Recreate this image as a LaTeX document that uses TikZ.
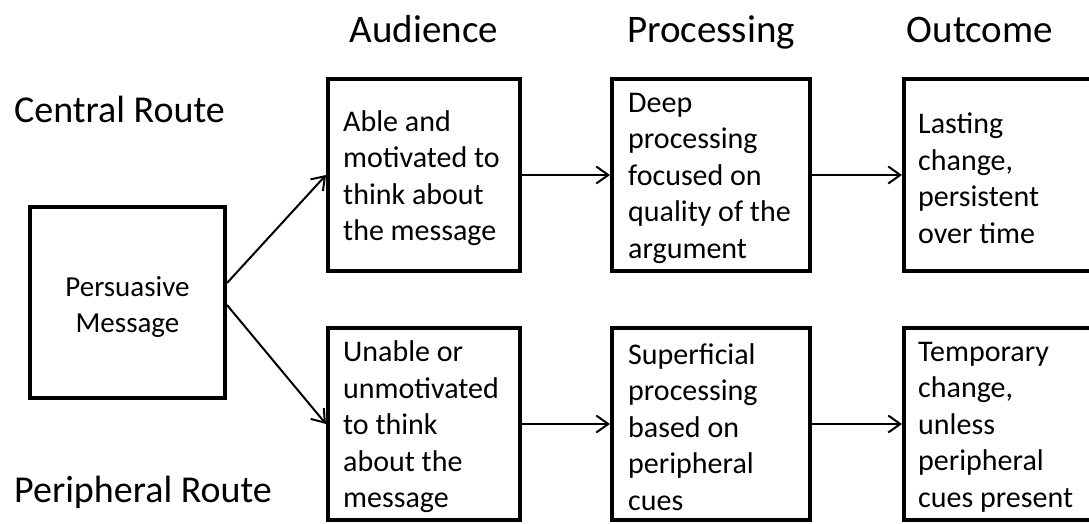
\documentclass[tikz,border=0pt]{standalone}
\usepackage{fontspec}
\setmainfont{Carlito}
\usetikzlibrary{arrows.meta,calc}
\begin{document}
\begin{tikzpicture}[x=1pt,y=-1pt,
  box/.style={draw, line width=4pt, inner sep=0pt, minimum height=192pt},
  txt/.style={anchor=west, align=left, inner sep=0pt, font=\fontsize{30}{36.5}\selectfont},
  conn/.style={line width=2pt, -{Straight Barb[length=12pt,width=17pt]}},
  heading/.style={font=\fontsize{39}{47}\selectfont, anchor=base, inner sep=0pt},
  route/.style={font=\fontsize{38}{46}\selectfont, anchor=base west, inner sep=0pt}]

% page frame
\useasboundingbox (0,0) rectangle (1089,523);
\clip (0,0) rectangle (1089,523);

% column headings
\node[heading] (hAud)  at (424,42) {Audience};
\node[heading] (hProc) at (711,42) {Processing};
\node[heading] (hOut)  at (980,42) {Outcome};

% route labels
\node[route] (central)    at (14,122) {Central Route};
\node[route] (peripheral) at (14,502) {Peripheral Route};

% source box
\node[box, minimum width=195pt, minimum height=191pt] (pm) at (127.5,302.5) {};
\node[align=center, inner sep=0pt, font=\fontsize{29}{36}\selectfont] (pmt) at (127.5,307) {Persuasive\\Message};

% central route
\node[box, minimum width=192pt] (aud1)  at (424,175) {};
\node[box, minimum width=198pt] (proc1) at (711,175) {};
\node[box, minimum width=200pt] (out1)  at (1004,175) {};
\node[txt] (aud1t)  at ($(aud1.west)+(17,3)$)  {Able and\\motivated to\\think about\\the message};
\node[txt] (proc1t) at ($(proc1.west)+(18,3)$) {Deep\\processing\\focused on\\quality of the\\argument};
\node[txt] (out1t)  at ($(out1.west)+(16,3)$)  {Lasting\\change,\\persistent\\over time};

% peripheral route
\node[box, minimum width=192pt] (aud2)  at (424,424) {};
\node[box, minimum width=198pt] (proc2) at (711,424) {};
\node[box, minimum width=200pt] (out2)  at (1004,424) {};
\node[txt] (aud2t)  at ($(aud2.west)+(17,3)$)  {Unable or\\unmotivated\\to think\\about the\\message};
\node[txt] (proc2t) at ($(proc2.west)+(18,3)$) {Superficial\\processing\\based on\\peripheral\\cues};
\node[txt] (out2t)  at ($(out2.west)+(16,3)$)  {Temporary\\change,\\unless\\peripheral\\cues present};

% connectors
\draw[conn] ($(pm.east)+(0,-19.5)$) -- (aud1.west);
\draw[conn] ($(pm.east)+(0,2.5)$) -- (aud2.west);
\draw[conn] (aud1) -- (proc1);
\draw[conn] (proc1) -- (out1);
\draw[conn] (aud2) -- (proc2);
\draw[conn] (proc2) -- (out2);
\end{tikzpicture}
\end{document}
